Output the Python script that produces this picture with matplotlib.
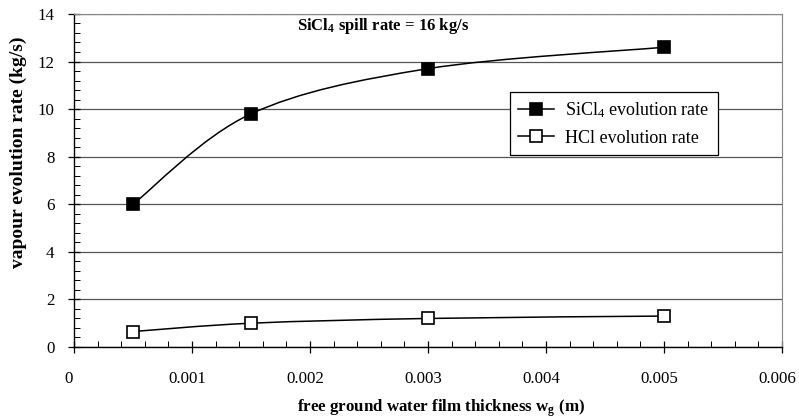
import matplotlib
matplotlib.use("Agg")
import matplotlib.pyplot as plt
from matplotlib.path import Path
from matplotlib.patches import PathPatch
from matplotlib.lines import Line2D
from matplotlib.ticker import MultipleLocator, FuncFormatter
from matplotlib.transforms import ScaledTranslation

plt.rcParams["font.family"] = ["Liberation Serif", "DejaVu Serif"]
plt.rcParams["mathtext.fontset"] = "custom"
plt.rcParams["mathtext.rm"] = "Liberation Serif"
plt.rcParams["mathtext.bf"] = "Liberation Serif:bold"
plt.rcParams["mathtext.it"] = "Liberation Serif:italic"

# data
film_thickness = [0.0005, 0.0015, 0.003, 0.005]
sicl4_rate = [6.0, 9.8, 11.7, 12.6]
hcl_rate = [0.65, 1.0, 1.2, 1.3]


def smooth_path(xs, ys):
    # Excel-style smoothed line: Catmull-Rom as cubic Bezier segments
    pts = list(zip(xs, ys))
    verts = [pts[0]]
    codes = [Path.MOVETO]
    n = len(pts)
    for i in range(n - 1):
        p0 = pts[i - 1] if i > 0 else pts[i]
        p1 = pts[i]
        p2 = pts[i + 1]
        p3 = pts[i + 2] if i + 2 < n else pts[i + 1]
        c1 = (p1[0] + (p2[0] - p0[0]) / 6, p1[1] + (p2[1] - p0[1]) / 6)
        c2 = (p2[0] - (p3[0] - p1[0]) / 6, p2[1] - (p3[1] - p1[1]) / 6)
        verts += [c1, c2, p2]
        codes += [Path.CURVE4] * 3
    return Path(verts, codes)


fig = plt.figure(figsize=(7.99, 4.2), dpi=100)
ax = fig.add_axes([0.0926, 0.1738, 0.886, 0.793])

for vals, face in [(sicl4_rate, "black"), (hcl_rate, "white")]:
    ax.add_patch(PathPatch(smooth_path(film_thickness, vals), fill=False,
                           edgecolor="black", lw=1.1, zorder=3))
    ax.plot(film_thickness, vals, ls="none", marker="s", ms=8,
            mfc=face, mec="black", mew=1.2, zorder=4)

ax.set_xlim(0, 0.006)
ax.set_ylim(0, 14)
ax.xaxis.set_major_locator(MultipleLocator(0.001))
ax.xaxis.set_minor_locator(MultipleLocator(0.0002))
ax.yaxis.set_major_locator(MultipleLocator(2))
ax.yaxis.set_minor_locator(MultipleLocator(0.4))
ax.xaxis.set_major_formatter(FuncFormatter(lambda v, p: "0" if abs(v) < 1e-12 else f"{v:.3f}"))
ax.tick_params(which="major", direction="inout", length=8, width=0.9, labelsize=12.2, pad=13)
ax.tick_params(which="minor", direction="in", length=4, width=0.7)
ax.tick_params(axis="y", which="major", pad=10)

# x tick labels sit a little left of their ticks in the original
shift = ScaledTranslation(-5 / 100, 0, fig.dpi_scale_trans)
for tick in ax.xaxis.get_major_ticks():
    tick.label1.set_transform(tick.label1.get_transform() + shift)

ax.grid(axis="y", which="major", color="#555555", lw=0.9)
ax.set_axisbelow(True)
for side in ["top", "right"]:
    ax.spines[side].set_color("#888888")
    ax.spines[side].set_linestyle((0, (1, 0.6)))
ax.spines["left"].set_linewidth(1.0)
ax.spines["bottom"].set_linewidth(1.0)

ax.set_xlabel(r"free ground water film thickness w$_\mathbf{g}$ (m)",
              fontsize=12.2, fontweight="bold")
ax.set_ylabel("vapour evolution rate (kg/s)", fontsize=14, fontweight="bold")
ax.xaxis.set_label_coords(0.518, -0.15)
ax.yaxis.set_label_coords(-0.066, 0.586)

ax.text(0.00262, 13.5, r"SiCl$_\mathbf{4}$ spill rate = 16 kg/s", fontsize=12,
        fontweight="bold", ha="center", va="center")

handles = [
    Line2D([], [], color="black", lw=1.1, marker="s", ms=8, mfc="black", mec="black", mew=1.2),
    Line2D([], [], color="black", lw=1.1, marker="s", ms=8, mfc="white", mec="black", mew=1.2),
]
leg = ax.legend(handles, [r"SiCl$_4$ evolution rate", "HCl evolution rate"],
                loc="upper left", bbox_to_anchor=(0.616, 0.766), fontsize=13,
                frameon=True, fancybox=False, edgecolor="black", framealpha=1,
                handlelength=2.0, handletextpad=0.6, borderpad=0.45, labelspacing=0.55,
                borderaxespad=0)
leg.get_frame().set_linewidth(0.9)

fig.savefig("out.png", dpi=100)
